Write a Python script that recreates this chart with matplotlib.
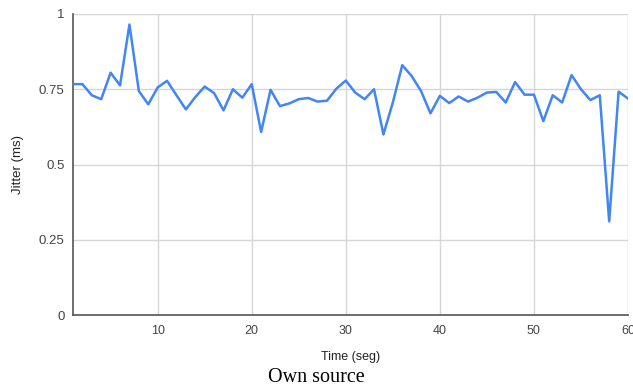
import numpy as np
import matplotlib.pyplot as plt

plt.rcParams['font.family'] = ['Liberation Sans', 'DejaVu Sans']

# время (с) и джиттер (мс)
t = np.arange(1, 61)
jitter = [0.767, 0.767, 0.730, 0.717, 0.805, 0.763, 0.965, 0.744, 0.700, 0.756,
          0.778, 0.730, 0.683, 0.724, 0.759, 0.737, 0.680, 0.750, 0.722, 0.767,
          0.608, 0.748, 0.694, 0.703, 0.717, 0.721, 0.709, 0.712, 0.752, 0.779,
          0.739, 0.717, 0.750, 0.600, 0.706, 0.830, 0.794, 0.744, 0.670, 0.728,
          0.704, 0.726, 0.709, 0.722, 0.739, 0.741, 0.706, 0.774, 0.732, 0.732,
          0.644, 0.730, 0.706, 0.797, 0.750, 0.714, 0.730, 0.311, 0.742, 0.719]
y_ticks = [0, 0.25, 0.5, 0.75, 1]
y_labels = ['0', '0.25', '0.5', '0.75', '1']
x_ticks = [10, 20, 30, 40, 50, 60]

fig = plt.figure(figsize=(6.33, 3.9), dpi=100)
ax = fig.add_axes([73 / 633, 1 - 315 / 390, 555 / 633, 301 / 390])
ax.plot(t, jitter, color='#4285f4', lw=1.8, zorder=3)

ax.set_xlim(1, 60)
ax.set_ylim(0, 1)
ax.set_xticks(x_ticks)
ax.set_yticks(y_ticks)
ax.set_yticklabels(y_labels)
ax.grid(color='#d6d6d6', lw=1)
ax.tick_params(length=0, labelsize=9.5, colors='#444444', pad=6)
ax.tick_params(axis='x', labelsize=9, pad=7)

for s in ['top', 'right']:
    ax.spines[s].set_visible(False)
for s in ['left', 'bottom']:
    ax.spines[s].set_color('#555555')
    ax.spines[s].set_linewidth(1.2)

ax.set_xlabel('Time (seg)', fontsize=9, color='#222222', labelpad=10)
ax.set_ylabel('Jitter (ms)', fontsize=9.5, color='#222222', labelpad=11)

fig.text(0.5, 1 - 378 / 390, 'Own source', ha='center', va='center',
         fontsize=14.5, family=['Liberation Serif', 'DejaVu Serif'])

fig.savefig('out.png')
